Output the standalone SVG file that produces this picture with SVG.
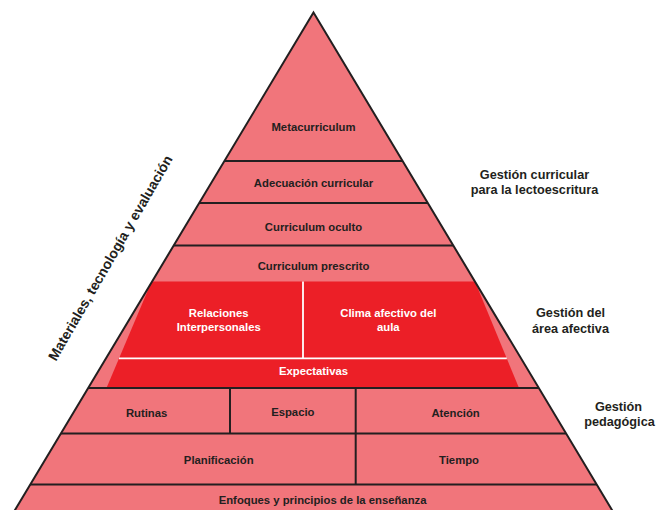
<svg xmlns="http://www.w3.org/2000/svg" width="657" height="510" viewBox="0 0 657 510">
<style>
  .lbl{font-family:"Liberation Sans",Arial,sans-serif;font-weight:bold;font-size:11.3px;fill:#231f20;text-anchor:middle}
  .wl{fill:#ffffff}
  .side{font-family:"Liberation Sans",Arial,sans-serif;font-weight:bold;font-size:12.7px;fill:#231f20;text-anchor:middle}
  .dl{stroke:#231f20;stroke-width:2;fill:none}
  .wline{stroke:#ffffff;stroke-width:1.8;fill:none}
</style>
<defs>
  <clipPath id="tri"><polygon points="313.5,12.5 613.2,512 13.8,512"/></clipPath>
</defs>
<rect width="657" height="510" fill="#ffffff"/>
<g id="pyramid">
  <polygon points="313.5,12.5 613.2,512 13.8,512" fill="#f1757b"/>
  <polygon id="affective-zone" clip-path="url(#tri)" points="151.6,281.5 475,281.5 519,388 106.5,388" fill="#ec1f27"/>
</g>
<g id="connectors" clip-path="url(#tri)">
  <line class="dl" x1="0" y1="161" x2="657" y2="161"/>
  <line class="dl" x1="0" y1="203" x2="657" y2="203"/>
  <line class="dl" x1="0" y1="245.5" x2="657" y2="245.5"/>
  <line class="dl" x1="0" y1="388" x2="657" y2="388"/>
  <line class="dl" x1="0" y1="433.5" x2="657" y2="433.5"/>
  <line class="dl" x1="0" y1="484.5" x2="657" y2="484.5"/>
  <line class="dl" x1="230" y1="388" x2="230" y2="433.5"/>
  <line class="dl" x1="355.7" y1="388" x2="355.7" y2="484.5"/>
  <line class="wline" x1="119" y1="358.3" x2="506.8" y2="358.3"/>
  <line class="wline" x1="303" y1="281.5" x2="303" y2="358.3"/>
</g>
<polygon points="313.5,12.5 613.2,512 13.8,512" fill="none" stroke="#231f20" stroke-width="2" stroke-linejoin="miter"/>
<g id="metacurriculum"><text class="lbl" x="313.5" y="131">Metacurriculum</text></g>
<g id="adecuacion"><text class="lbl" x="313.5" y="187">Adecuación curricular</text></g>
<g id="curriculum-oculto"><text class="lbl" x="313.5" y="231">Curriculum oculto</text></g>
<g id="curriculum-prescrito"><text class="lbl" x="313.5" y="269.5">Curriculum prescrito</text></g>
<g id="relaciones"><text class="lbl wl" x="218.7" y="316.7">Relaciones</text><text class="lbl wl" x="218.7" y="330.6">Interpersonales</text></g>
<g id="clima"><text class="lbl wl" x="388.3" y="316.7">Clima afectivo del</text><text class="lbl wl" x="388.3" y="330.6">aula</text></g>
<g id="expectativas"><text class="lbl wl" x="313.5" y="375">Expectativas</text></g>
<g id="rutinas"><text class="lbl" x="146.6" y="417">Rutinas</text></g>
<g id="espacio"><text class="lbl" x="292.8" y="416">Espacio</text></g>
<g id="atencion"><text class="lbl" x="455.6" y="417">Atención</text></g>
<g id="planificacion"><text class="lbl" x="218.7" y="464">Planificación</text></g>
<g id="tiempo"><text class="lbl" x="459" y="463.5">Tiempo</text></g>
<g id="enfoques"><text class="lbl" x="322.6" y="504">Enfoques y principios de la enseñanza</text></g>
<g id="gestion-curricular"><text class="side" x="534.5" y="179">Gestión curricular</text><text class="side" x="534.5" y="193.5">para la lectoescritura</text></g>
<g id="gestion-afectiva"><text class="side" x="570.5" y="317.3">Gestión del</text><text class="side" x="570.5" y="332.5">área afectiva</text></g>
<g id="gestion-pedagogica"><text class="side" x="618.5" y="410.7">Gestión</text><text class="side" x="619.5" y="425.5">pedagógica</text></g>
<g id="materiales"><text class="side" style="font-size:14px" transform="translate(114.5,260.3) rotate(-60)" x="0" y="0">Materiales, tecnología y evaluación</text></g>
</svg>
